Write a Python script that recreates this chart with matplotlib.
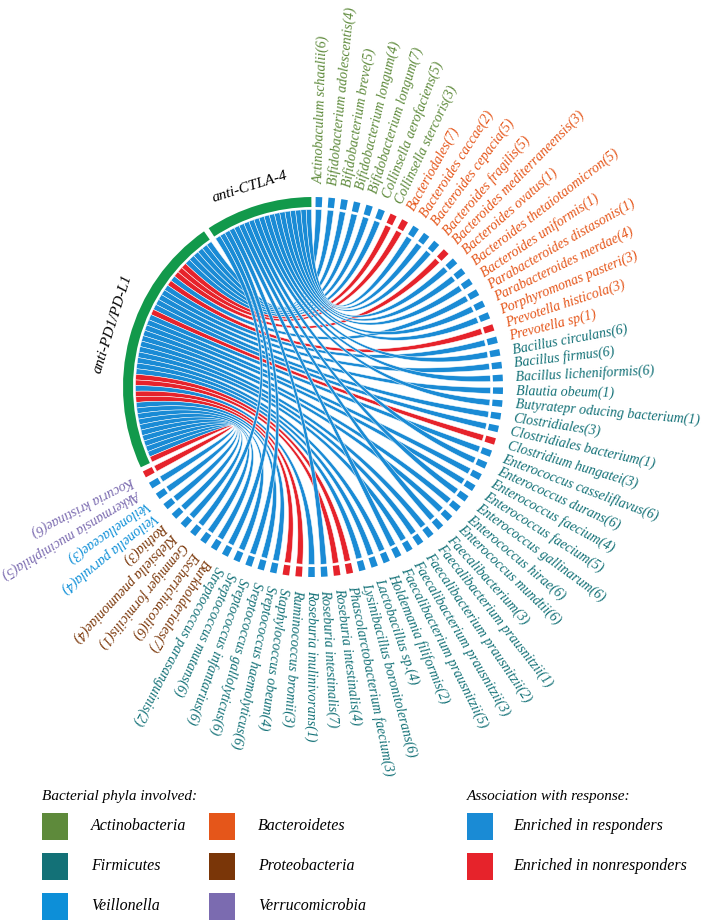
import numpy as np
import matplotlib.pyplot as plt
from matplotlib.patches import Wedge, Rectangle

plt.rcParams['font.family'] = ['Liberation Serif', 'DejaVu Serif']

# =========================
# DATA
# =========================
actinobacteria = ["Actinobaculum schaalii(6)", "Bifidobacterium adolescentis(4)", "Bifidobacterium breve(5)",
                  "Bifidobacterium longum(4)", "Bifidobacterium longum(7)", "Collinsella aerofaciens(5)",
                  "Collinsella stercoris(3)"]
bacteroidetes = ["Bacteriodales(7)", "Bacteroides caccae(2)", "Bacteroides cepacia(5)", "Bacteroides fragilis(5)",
                 "Bacteroides mediterraneensis(3)", "Bacteroides ovatus(1)", "Bacteroides thetaiotaomicron(5)",
                 "Bacteroides uniformis(1)", "Parabacteroides distasonis(1)", "Parabacteroides merdae(4)",
                 "Porphyromonas pasteri(3)", "Prevotella histicola(3)", "Prevotella sp(1)"]
firmicutes = ["Bacillus circulans(6)", "Bacillus firmus(6)", "Bacillus licheniformis(6)", "Blautia obeum(1)",
              "Butyratepr oducing bacterium(1)", "Clostridiales(3)", "Clostridiales bacterium(1)",
              "Clostridium hungatei(3)", "Enterococcus casseliflavus(6)", "Enterococcus durans(6)",
              "Enterococcus faecium(4)", "Enterococcus faecium(5)", "Enterococcus gallinarum(6)",
              "Enterococcus hirae(6)", "Enterococcus mundtii(6)", "Faecalibacterium(3)",
              "Faecalibacterium prausnitzii(1)", "Faecalibacterium prausnitzii(2)",
              "Faecalibacterium prausnitzii(3)", "Faecalibacterium prausnitzii(5)", "Holdemania filiformis(2)",
              "Lactobacillus sp.(4)", "Lysinibacillus boronitolerans(6)", "Phascolarctobacterium faecium(3)",
              "Roseburia intestinalis(4)", "Roseburia intestinalis(7)", "Roseburia inulinivorans(1)",
              "Ruminococcus bromii(3)", "Staphylococcus obeum(4)", "Sreptococcus haemolyticus(6)",
              "Sreptococcus gallolyticus(6)", "Sreptococcus infantarius(6)", "Sreptococcus mutans(6)",
              "Streptococcus parasanguinis(2)"]
proteobacteria = ["Burkholderiales(7)", "Escherichiacoli(6)", "Gemmiger formicilis(1)",
                  "Klebsiella pneumoniae(4)", "Rothia(3)"]
veillonella = ["Veilonella parvula(4)", "Veilonellaceae(3)"]
verrucomicrobia = ["Akkermansia muciniphila(5)", "Kocuria kristinae(6)"]

# bacteria enriched in nonresponders (red), all others enriched in responders (blue)
nonresponder = ["Collinsella stercoris(3)", "Bacteriodales(7)", "Bacteroides mediterraneensis(3)",
                "Prevotella histicola(3)", "Clostridium hungatei(3)", "Phascolarctobacterium faecium(3)",
                "Roseburia intestinalis(4)", "Ruminococcus bromii(3)", "Staphylococcus obeum(4)",
                "Kocuria kristinae(6)"]

# bacteria linked to anti-CTLA-4, the rest are linked to anti-PD1/PD-L1
ctla4_links = ["Bacteroides caccae(2)", "Bacteroides cepacia(5)", "Bacteroides fragilis(5)",
               "Bacteroides ovatus(1)", "Bacteroides thetaiotaomicron(5)", "Bacteroides uniformis(1)",
               "Parabacteroides merdae(4)", "Porphyromonas pasteri(3)", "Bacillus circulans(6)",
               "Bacillus licheniformis(6)", "Butyratepr oducing bacterium(1)", "Enterococcus durans(6)",
               "Enterococcus gallinarum(6)", "Faecalibacterium(3)", "Faecalibacterium prausnitzii(5)",
               "Roseburia intestinalis(7)", "Sreptococcus infantarius(6)", "Streptococcus parasanguinis(2)",
               "Gemmiger formicilis(1)"]

phyla = ["Actinobacteria", "Bacteroidetes", "Firmicutes", "Proteobacteria", "Veillonella", "Verrucomicrobia"]
phyla_members = [actinobacteria, bacteroidetes, firmicutes, proteobacteria, veillonella, verrucomicrobia]
phyla_colors = ["#5e8a3b", "#e5561a", "#137177", "#7a3608", "#0d8fd8", "#7b6bb0"]

col_resp = "#1a8bd5"
col_nonresp = "#e6232b"
col_drug = "#12994b"

# =========================
# LAYOUT
# =========================
W, H = 709, 921
cx, cy = 313, H - 387
r_out, r_track, r_chord, r_lab = 190, 180, 177.5, 203

first_ang, last_ang = 88.2, -152.6
bar_half = 1.0
ctla_span = (90.5, 123.3)
pd1_span = (125.0, 205.0)

bacteria, bact_color = [], []
for ph, members, c in zip(phyla, phyla_members, phyla_colors):
    bacteria += members
    bact_color += [c] * len(members)
angles = np.linspace(first_ang, last_ang, len(bacteria))


def pol(r, ang):
    a = np.deg2rad(np.atleast_1d(ang))
    return np.column_stack([cx + r * np.cos(a), cy + r * np.sin(a)])


def bez(p0, p2, n=60):
    t = np.linspace(0, 1, n)[:, None]
    c = np.array([cx, cy])
    return (1 - t) ** 2 * p0 + 2 * (1 - t) * t * c + t ** 2 * p2


fig = plt.figure(figsize=(W / 100, H / 100), dpi=100)
ax = fig.add_axes([0, 0, 1, 1])
ax.set_xlim(0, W)
ax.set_ylim(0, H)
ax.axis('off')

# drug end positions (links ordered by bacterium position)
ctla_idx = [i for i, b in enumerate(bacteria) if b in ctla4_links]
pd1_idx = [i for i, b in enumerate(bacteria) if b not in ctla4_links]
drug_end = {}
for idx, (lo, hi) in [(ctla_idx, ctla_span), (pd1_idx, pd1_span)]:
    edges = np.linspace(lo, hi, len(idx) + 1)
    for k, i in enumerate(idx):
        drug_end[i] = (edges[k], edges[k + 1])

# chords
for i, b in enumerate(bacteria):
    col = col_nonresp if b in nonresponder else col_resp
    a_hi, a_lo = angles[i] + bar_half, angles[i] - bar_half
    b_lo, b_hi = drug_end[i]
    arc_a = pol(r_chord, np.linspace(a_hi, a_lo, 6))
    arc_b = pol(r_chord, np.linspace(b_hi, b_lo, 12))
    poly = np.vstack([arc_a, bez(arc_a[-1], arc_b[0]), arc_b, bez(arc_b[-1], arc_a[0])])
    ax.fill(poly[:, 0], poly[:, 1], facecolor=col, edgecolor='white', lw=0.35, zorder=2)

# outer track: bacteria
for i, b in enumerate(bacteria):
    col = col_nonresp if b in nonresponder else col_resp
    ax.add_patch(Wedge((cx, cy), r_out, angles[i] - bar_half, angles[i] + bar_half,
                       width=r_out - r_track, facecolor=col, edgecolor='none', zorder=3))
    x, y = pol(r_lab, angles[i])[0]
    ax.text(x, y, b, rotation=angles[i], rotation_mode='anchor', ha='left', va='center',
            fontsize=10, style='italic', color=bact_color[i])

# outer track: drugs
for lo, hi in [ctla_span, pd1_span]:
    ax.add_patch(Wedge((cx, cy), r_out, lo, hi, width=r_out - r_track,
                       facecolor=col_drug, edgecolor='none', zorder=3))

for name, ang in [("anti-CTLA-4", 107.5), ("anti-PD1/PD-L1", 162.5)]:
    x, y = pol(210, ang)[0]
    ax.text(x, y, name, rotation=ang - 90, rotation_mode='anchor', ha='center', va='center',
            fontsize=11, style='italic', color='black')

# =========================
# LEGEND
# =========================
def ytop(v):
    return H - v

ax.text(42, ytop(796), "Bacterial phyla involved:", fontsize=11, style='italic', ha='left', va='center')
ax.text(467, ytop(796), "Association with response:", fontsize=11, style='italic', ha='left', va='center')

leg_cols = [42, 209]
leg_rows = [826, 866, 906]
leg_order = ["Actinobacteria", "Bacteroidetes", "Firmicutes", "Proteobacteria", "Veillonella", "Verrucomicrobia"]
for k, ph in enumerate(leg_order):
    x0 = leg_cols[k % 2]
    y0 = leg_rows[k // 2]
    c = phyla_colors[phyla.index(ph)]
    ax.add_patch(Rectangle((x0, ytop(y0) - 13.5), 26, 27, facecolor=c, edgecolor='none'))
    ax.text(x0 + 49, ytop(y0), ph, fontsize=11.5, style='italic', ha='left', va='center')

for k, (lab, c) in enumerate([("Enriched in responders", col_resp), ("Enriched in nonresponders", col_nonresp)]):
    y0 = leg_rows[k]
    ax.add_patch(Rectangle((467, ytop(y0) - 13.5), 26, 27, facecolor=c, edgecolor='none'))
    ax.text(513, ytop(y0), lab, fontsize=11.5, style='italic', ha='left', va='center')

fig.savefig("out.png", dpi=100)
